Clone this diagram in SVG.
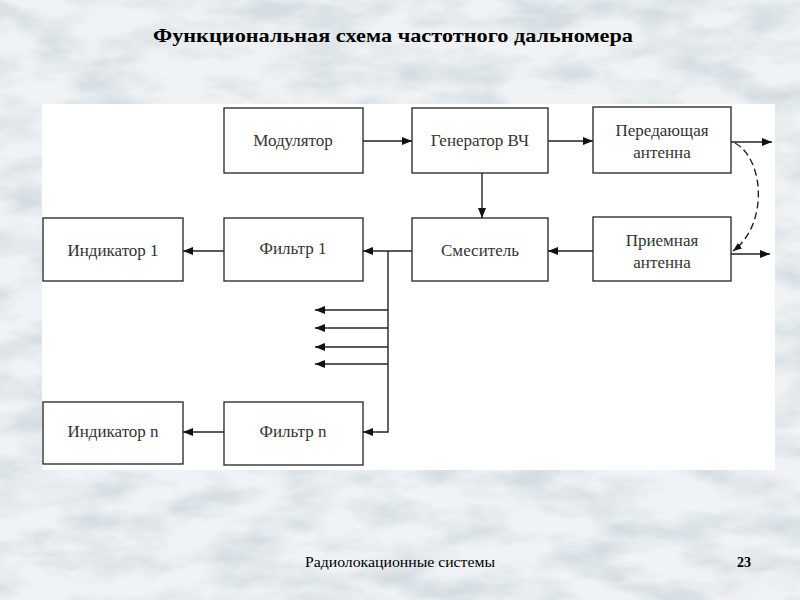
<svg xmlns="http://www.w3.org/2000/svg" width="800" height="600" viewBox="0 0 800 600">
<defs>
<filter id="clouds" x="0" y="0" width="100%" height="100%">
<feTurbulence type="fractalNoise" baseFrequency="0.014 0.035" numOctaves="4" seed="7" result="n"/>
<feColorMatrix in="n" type="matrix" values="0 0 0 0 0.66  0 0 0 0 0.72  0 0 0 0 0.76  0 0 0 -2.4 1.5"/>
</filter>
<marker id="ah" viewBox="0 0 10 8" refX="10" refY="4" markerWidth="10" markerHeight="8" markerUnits="userSpaceOnUse" orient="auto">
<path d="M0,0 L10,4 L0,8 Z" fill="#111"/>
</marker>
<marker id="ahd" viewBox="0 0 10 8" refX="10" refY="4" markerWidth="9" markerHeight="7" markerUnits="userSpaceOnUse" orient="auto">
<path d="M0,0 L10,4 L0,8 Z" fill="#111"/>
</marker>
</defs>
<style>
.box{fill:#fff;stroke:#222;stroke-width:1.3}
.lbl{font-family:'Liberation Serif','Times New Roman',serif;font-size:17px;fill:#333;text-anchor:middle}
.ln{fill:none;stroke:#222;stroke-width:1.4}
</style>
<rect width="800" height="600" fill="#f0f3f5"/>
<rect width="800" height="600" filter="url(#clouds)"/>
<rect x="42" y="104" width="733" height="366" fill="#fff"/>
<text x="393" y="42" font-family="'Liberation Serif','Times New Roman',serif" font-size="19" font-weight="bold" text-anchor="middle" textLength="480" lengthAdjust="spacingAndGlyphs" fill="#000">Функциональная схема частотного дальномера</text>

<g id="modulator"><rect class="box" x="224" y="108" width="139" height="65"/><text class="lbl" x="293" y="146">Модулятор</text></g>
<g id="generator"><rect class="box" x="412" y="108" width="136" height="65"/><text class="lbl" x="480" y="146">Генератор ВЧ</text></g>
<g id="tx-antenna"><rect class="box" x="593" y="107" width="138" height="66"/><text class="lbl" x="662" y="136">Передающая</text><text class="lbl" x="662" y="158">антенна</text></g>
<g id="rx-antenna"><rect class="box" x="593" y="217" width="138" height="64"/><text class="lbl" x="662" y="246">Приемная</text><text class="lbl" x="662" y="268">антенна</text></g>
<g id="mixer"><rect class="box" x="412" y="218" width="136" height="63"/><text class="lbl" x="480" y="256">Смеситель</text></g>
<g id="filter1"><rect class="box" x="224" y="218" width="139" height="63"/><text class="lbl" x="293" y="254">Фильтр 1</text></g>
<g id="indicator1"><rect class="box" x="43" y="218" width="140" height="63"/><text class="lbl" x="113" y="256">Индикатор 1</text></g>
<g id="filtern"><rect class="box" x="224" y="402" width="139" height="63"/><text class="lbl" x="293" y="437">Фильтр n</text></g>
<g id="indicatorn"><rect class="box" x="43" y="402" width="140" height="62"/><text class="lbl" x="113" y="437">Индикатор n</text></g>

<g id="connectors">
<line class="ln" x1="363" y1="141" x2="412" y2="141" marker-end="url(#ah)"/>
<line class="ln" x1="548" y1="141" x2="593" y2="141" marker-end="url(#ah)"/>
<line class="ln" x1="731" y1="142" x2="772" y2="142" marker-end="url(#ah)"/>
<line class="ln" x1="731" y1="254" x2="770" y2="254" marker-end="url(#ah)"/>
<path class="ln" d="M735,143 C765,160 768,225 733,251" stroke-dasharray="7,4" marker-end="url(#ahd)"/>
<line class="ln" x1="482" y1="173" x2="482" y2="218" marker-end="url(#ah)"/>
<line class="ln" x1="593" y1="251" x2="548" y2="251" marker-end="url(#ah)"/>
<line class="ln" x1="412" y1="251" x2="363" y2="251" marker-end="url(#ah)"/>
<line class="ln" x1="224" y1="251" x2="183" y2="251" marker-end="url(#ah)"/>
<polyline class="ln" points="388,251 388,432 363,432" marker-end="url(#ah)"/>
<line class="ln" x1="388" y1="310" x2="315" y2="310" marker-end="url(#ah)"/>
<line class="ln" x1="388" y1="328" x2="315" y2="328" marker-end="url(#ah)"/>
<line class="ln" x1="388" y1="347" x2="315" y2="347" marker-end="url(#ah)"/>
<line class="ln" x1="388" y1="364" x2="315" y2="364" marker-end="url(#ah)"/>
<line class="ln" x1="224" y1="432" x2="183" y2="432" marker-end="url(#ah)"/>
</g>

<text x="305" y="567" font-family="'Liberation Serif','Times New Roman',serif" font-size="14" textLength="190" lengthAdjust="spacingAndGlyphs" fill="#000">Радиолокационные системы</text>
<text x="737" y="567" font-family="'Liberation Serif','Times New Roman',serif" font-size="14" font-weight="bold" fill="#000">23</text>
</svg>
